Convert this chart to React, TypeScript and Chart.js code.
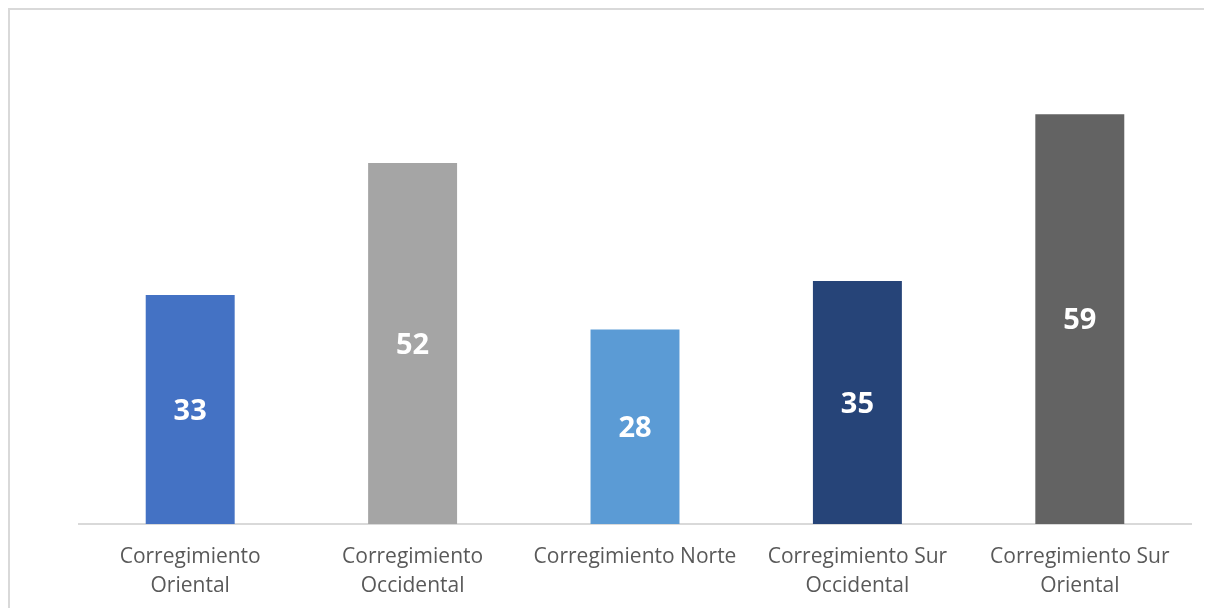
import React, { useEffect, useRef } from "react";
import { Chart, registerables } from "chart.js";

Chart.register(...registerables);

const categories: string[][] = [
  ["Corregimiento", "Oriental"],
  ["Corregimiento", "Occidental"],
  ["Corregimiento Norte"],
  ["Corregimiento Sur", "Occidental"],
  ["Corregimiento Sur", "Oriental"],
];
const values: number[] = [33, 52, 28, 35, 59];
const barColors: string[] = ["#4472C4", "#A5A5A5", "#5B9BD5", "#264478", "#636363"];

const FONT = "'Open Sans', 'Liberation Sans', sans-serif";

const centerLabels = {
  id: "centerLabels",
  afterDatasetsDraw(chart: any) {
    const ctx = chart.ctx;
    const meta = chart.getDatasetMeta(0);
    ctx.save();
    ctx.fillStyle = "#ffffff";
    ctx.font = `bold 29px ${FONT}`;
    ctx.textAlign = "center";
    ctx.textBaseline = "middle";
    meta.data.forEach((bar: any, i: number) => {
      const { x, y, base } = bar.getProps(["x", "y", "base"], true);
      ctx.fillText(String(values[i]), x, (y + base) / 2 + 2);
    });
    ctx.restore();
  },
};

export default function App() {
  const canvasRef = useRef<HTMLCanvasElement | null>(null);

  useEffect(() => {
    document.documentElement.style.overflow = "hidden";
    document.body.style.overflow = "hidden";
    if (!canvasRef.current) return;
    const chart = new Chart(canvasRef.current, {
      type: "bar",
      data: {
        labels: categories,
        datasets: [
          {
            data: values,
            backgroundColor: barColors,
            barPercentage: 0.8,
            categoryPercentage: 0.5,
          },
        ],
      },
      options: {
        animation: false,
        responsive: true,
        maintainAspectRatio: false,
        layout: { padding: { left: 69, right: 21, top: 28, bottom: 9 } },
        plugins: {
          legend: { display: false },
          tooltip: { enabled: false },
        },
        scales: {
          x: {
            grid: { display: false },
            border: { display: true, color: "#d9d9d9", width: 2 },
            ticks: {
              color: "#595959",
              font: { family: FONT, size: 21, lineHeight: 29 / 21 },
              padding: 11,
              maxRotation: 0,
              autoSkip: false,
            },
          },
          y: {
            display: false,
            min: 0,
            max: 70,
          },
        },
      },
      plugins: [centerLabels],
    });
    return () => chart.destroy();
  }, []);

  return (
    <div
      style={{
        width: 1204,
        height: 600,
        borderTop: "2px solid #d9d9d9",
        borderLeft: "2px solid #d9d9d9",
        boxSizing: "border-box",
        background: "#ffffff",
        overflow: "hidden",
      }}
    >
      <div style={{ position: "relative", width: 1202, height: 611 }}>
        <canvas ref={canvasRef} />
      </div>
    </div>
  );
}
